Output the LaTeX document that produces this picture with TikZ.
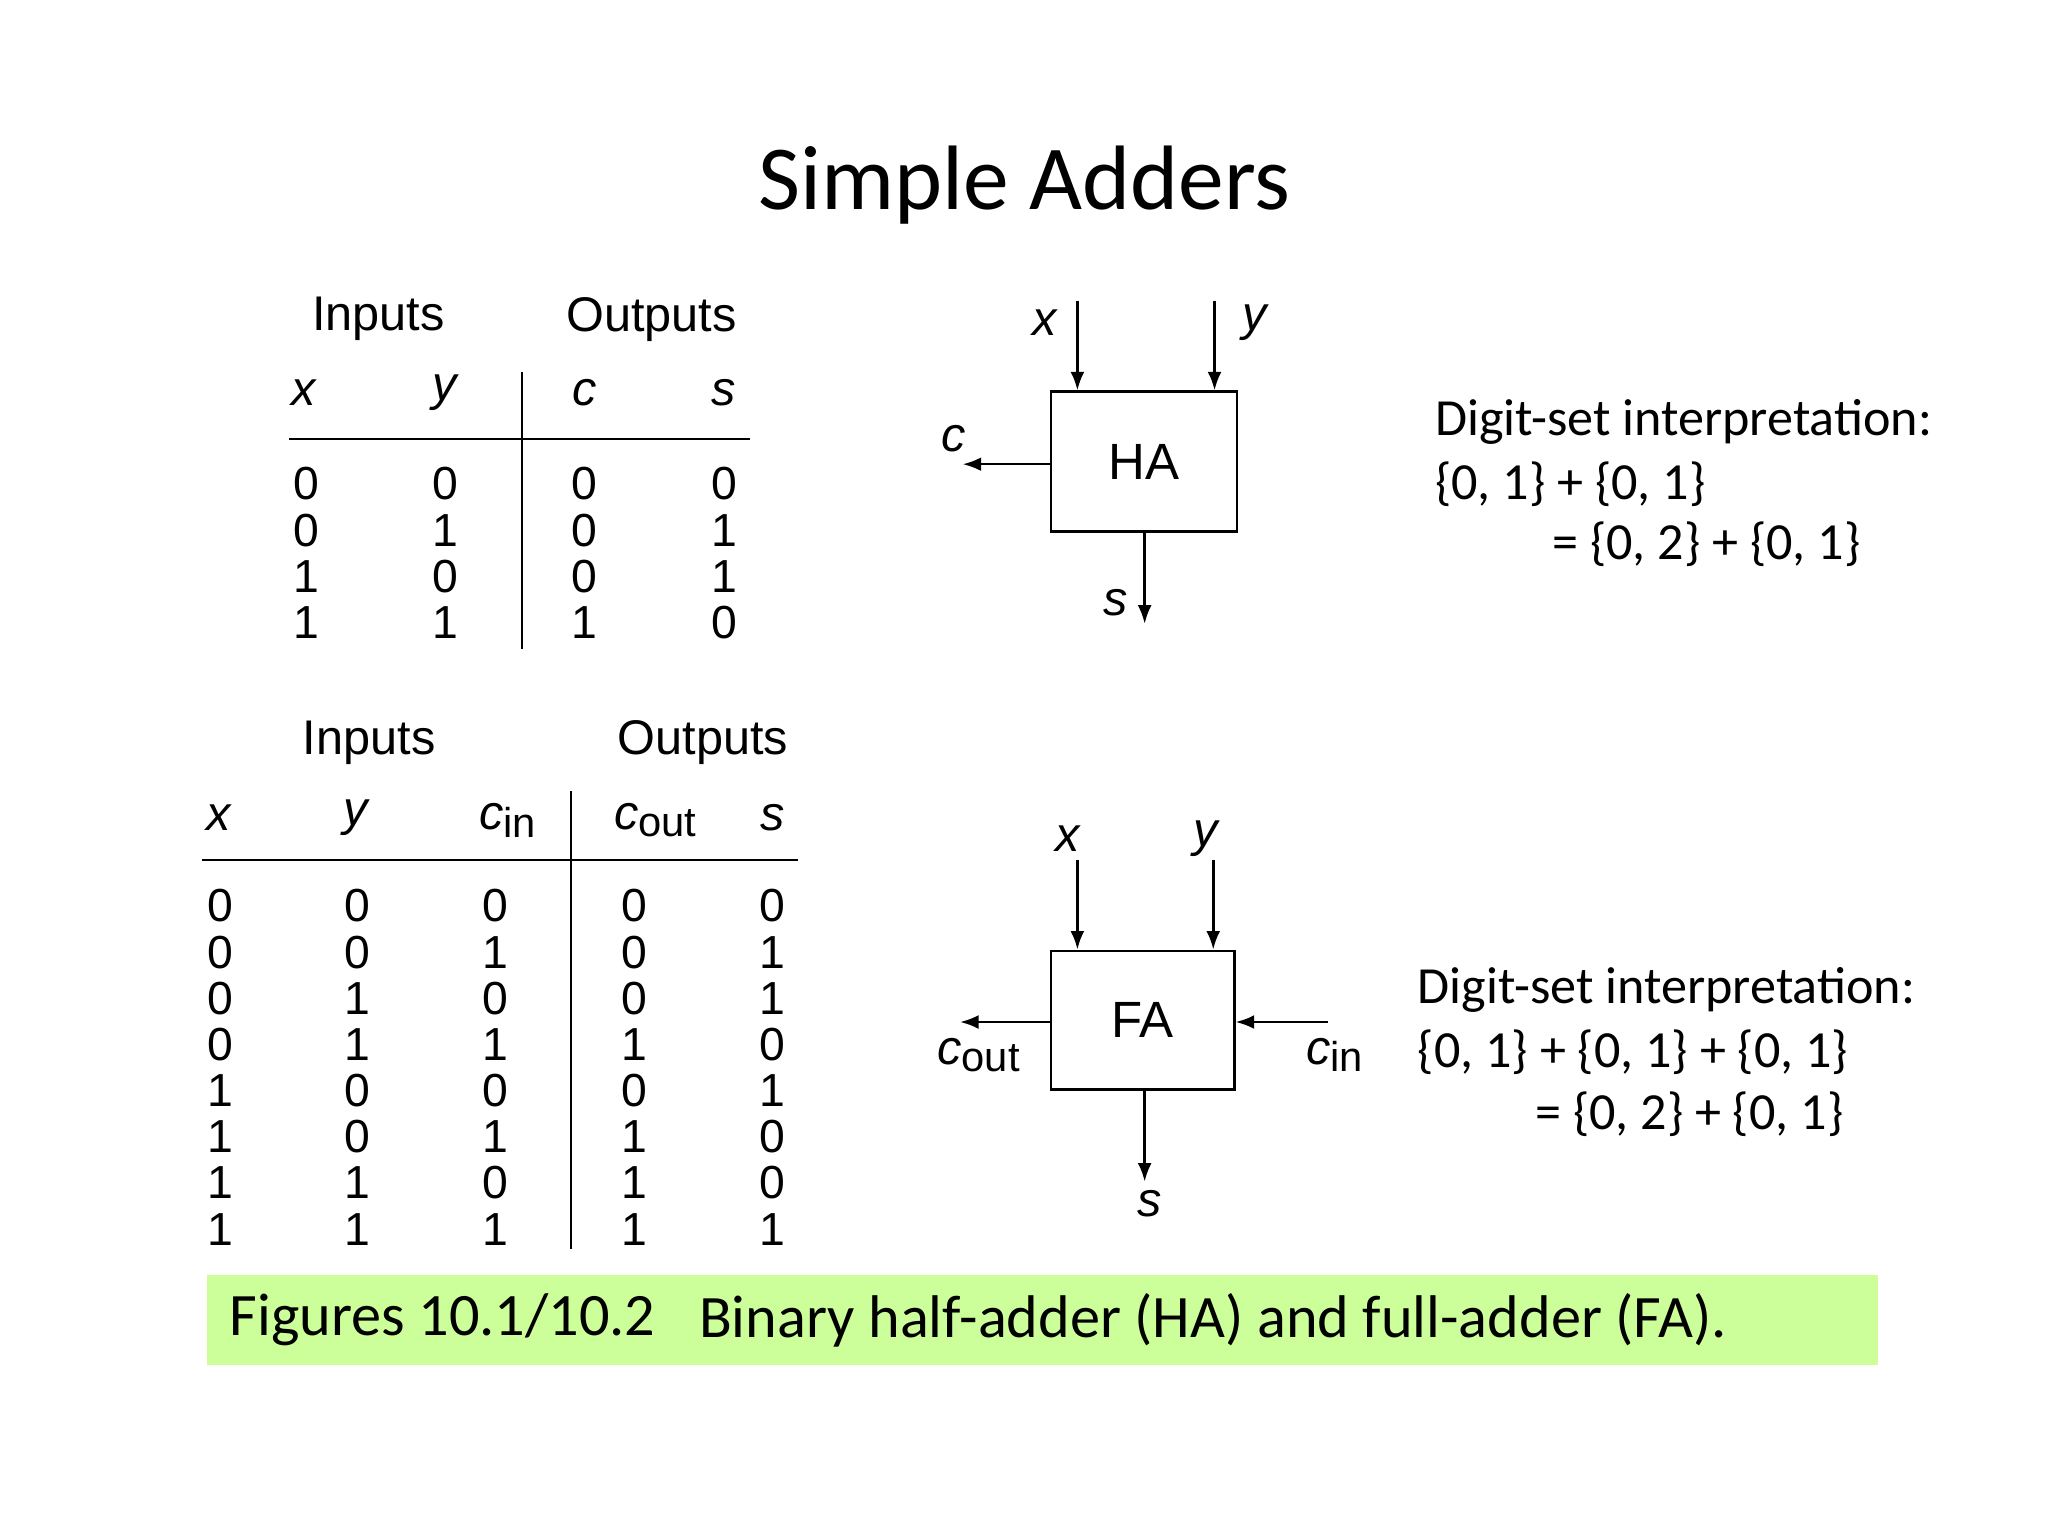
\documentclass[tikz,border=0pt]{standalone}
\usepackage{fontspec}
\setmainfont{Carlito}
\newfontfamily\ar{Liberation Sans}
\usetikzlibrary{arrows.meta}
\newcommand{\vv}[1]{\textit{#1}}
\newcommand{\vsub}[2]{\textit{#1}\raisebox{-0.3ex}{\fontsize{18}{20}\selectfont #2}}
\begin{document}
\begin{tikzpicture}[x=0.02cm,y=-0.02cm,
  tb/.style={font=\ar\fontsize{20}{22}\selectfont},
  th/.style={font=\ar\fontsize{21}{24}\selectfont},
  ds/.style={font=\fontsize{22.5}{26}\selectfont,anchor=west},
  arr/.style={line width=1.1pt,-{Latex[length=8pt,width=6pt]}},
  ln/.style={line width=1.1pt},
  box/.style={draw,line width=1.1pt,font=\ar\fontsize{22}{24}\selectfont}]
\useasboundingbox (0,0) rectangle (1553,1165);
\node (title) at (777,140) {\fontsize{39.5}{44}\selectfont Simple Adders};
% HA table
\node[th] (hi) at (287,242) {Inputs};
\node[th] (ho) at (494,242) {Outputs};
\foreach \t/\xx in {x/231,y/338,c/443,s/549}
  \node[th] at (\xx,298) {\vv{\t}};
\coordinate (h1) at (219,333); \coordinate (h2) at (569,333);
\draw[ln] (h1) -- (h2);
\coordinate (v1) at (396,282); \coordinate (v2) at (396,492);
\draw[ln] (v1) -- (v2);
\foreach \a/\b/\c/\d [count=\i] in {0/0/0/0,0/1/0/1,1/0/0/1,1/1/1/0}{
  \node[tb] at (232,332+35*\i) {\a};
  \node[tb] at (338,332+35*\i) {\b};
  \node[tb] at (443,332+35*\i) {\c};
  \node[tb] at (549,332+35*\i) {\d};}
% HA block
\node[box,minimum width=2.82cm,minimum height=2.12cm] (ha) at (867.5,350) {HA};
\coordinate (hx) at (817,228); \coordinate (hy) at (921,228);
\draw[arr] (hx) -- (hx |- ha.north);
\draw[arr] (hy) -- (hy |- ha.north);
\node[th] at (793,245) {\vv{x}};
\node[th] at (952,245) {\vv{y}};
\coordinate (hc) at (730,352);
\draw[arr] (ha.west |- hc) -- (hc);
\node[th] at (723,333) {\vv{c}};
\coordinate (hs) at (868,473);
\draw[arr] (hs |- ha.south) -- (hs);
\node[th] at (846,457) {\vv{s}};
\node[ds] at (1082,320) {Digit-set interpretation:};
\node[ds] at (1082,367) {\{0, 1\} + \{0, 1\}};
\node[ds] at (1171,413) {= \{0, 2\} + \{0, 1\}};
% FA table
\node[th] at (280,563) {Inputs};
\node[th] at (533,563) {Outputs};
\node[th] at (166,620) {\vv{x}};
\node[th] at (271,620) {\vv{y}};
\node[th] at (385,622) {\vsub{c}{in}};
\node[th] at (497,622) {\vsub{c}{out}};
\node[th] at (586,620) {\vv{s}};
\coordinate (f1) at (153,652); \coordinate (f2) at (605,652);
\draw[ln] (f1) -- (f2);
\coordinate (w1) at (433,600); \coordinate (w2) at (433,947);
\draw[ln] (w1) -- (w2);
\foreach \a/\b/\c/\d/\e [count=\i] in {0/0/0/0/0,0/0/1/0/1,0/1/0/0/1,0/1/1/1/0,1/0/0/0/1,1/0/1/1/0,1/1/0/1/0,1/1/1/1/1}{
  \node[tb] at (167,652+35*\i) {\a};
  \node[tb] at (271,652+35*\i) {\b};
  \node[tb] at (376,652+35*\i) {\c};
  \node[tb] at (481,652+35*\i) {\d};
  \node[tb] at (586,652+35*\i) {\e};}
% FA block
\node[box,minimum width=2.78cm,minimum height=2.1cm] (fa) at (866.5,773.5) {FA};
\coordinate (fx) at (817,652); \coordinate (fy) at (920,652);
\draw[arr] (fx) -- (fx |- fa.north);
\draw[arr] (fy) -- (fy |- fa.north);
\node[th] at (810,636) {\vv{x}};
\node[th] at (915,636) {\vv{y}};
\coordinate (fc) at (728,775);
\draw[arr] (fa.west |- fc) -- (fc);
\node[th] at (742,800) {\vsub{c}{out}};
\coordinate (fci) at (1007,775);
\draw[arr] (fci) -- (fa.east |- fci);
\node[th] at (1012,800) {\vsub{c}{in}};
\coordinate (fs) at (868,896);
\draw[arr] (fs |- fa.south) -- (fs);
\node[th] at (872,913) {\vv{s}};
\node[ds] at (1069,751) {Digit-set interpretation:};
\node[ds] at (1069,798) {\{0, 1\} + \{0, 1\} + \{0, 1\}};
\node[ds] at (1158,845) {= \{0, 2\} + \{0, 1\}};
% caption
\fill[fill={rgb,255:red,204;green,255;blue,153}] (157,967) rectangle (1424,1035);
\node[anchor=west,font=\fontsize{26}{30}\selectfont] (cap1) at (168,1001) {Figures 10.1/10.2};
\node[anchor=west,font=\fontsize{26}{30}\selectfont] (cap2) at (524,1001) {Binary half-adder (HA) and full-adder (FA).};
\end{tikzpicture}
\end{document}
